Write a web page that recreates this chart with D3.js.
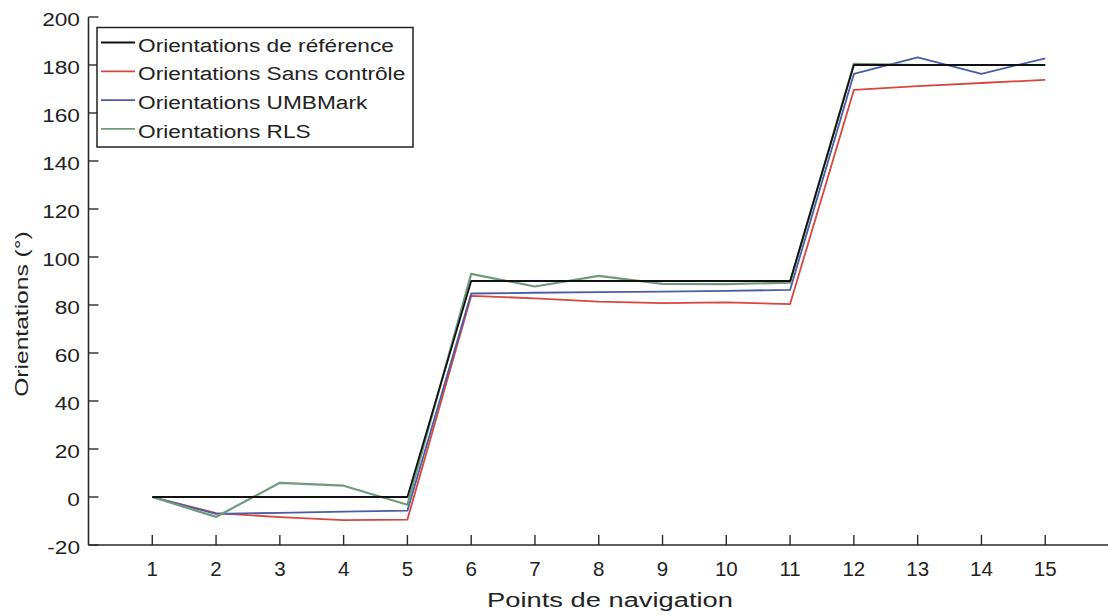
<!DOCTYPE html>
<html>
<head>
<meta charset="utf-8">
<script src="https://cdn.jsdelivr.net/npm/d3@7"></script>
<style>
  html, body { margin: 0; padding: 0; background: #fff; }
  svg text { font-family: "Liberation Sans", Arial, sans-serif; fill: #222; }
</style>
</head>
<body>
<svg id="chart" width="1108" height="616"></svg>
<script>
// ---- data ----
const points = [1, 2, 3, 4, 5, 6, 7, 8, 9, 10, 11, 12, 13, 14, 15];
const reference = [0, 0, 0, 0, 0, 90, 90, 90, 90, 90, 90, 180, 180, 180, 180];
const sansControle = [0, -6.7, -8.4, -9.6, -9.4, 83.8, 82.8, 81.4, 80.8, 81.1, 80.4, 169.6, 171.2, 172.5, 173.8];
const umbmark = [0, -7, -6.6, -6.1, -5.7, 84.8, 85.1, 85.4, 85.6, 85.9, 86.3, 176.3, 183.2, 176.3, 182.8];
const rls = [0, -8.3, 5.9, 4.7, -3.2, 93, 87.7, 92.1, 88.8, 88.7, 89.3, 180.5, 180, 180, 180];
const seriesNames = ["Orientations de référence", "Orientations Sans contrôle", "Orientations UMBMark", "Orientations RLS"];
const yTicks = [-20, 0, 20, 40, 60, 80, 100, 120, 140, 160, 180, 200];
const xLabel = "Points de navigation";
const yLabel = "Orientations (°)";

// ---- layout ----
const svg = d3.select("#chart");
const x = d3.scaleLinear().domain([0, 16]).range([88.5, 1109]);
const y = d3.scaleLinear().domain([-20, 200]).range([545, 17]);

const colors = ["#111111", "#d8473e", "#4a5ca6", "#6f9c78"];
const data = [reference, sansControle, umbmark, rls];

// axes
const axisColor = "#2a2a2a";
svg.append("line").attr("x1", x(0)).attr("x2", 1108).attr("y1", y(-20)).attr("y2", y(-20))
  .attr("stroke", axisColor).attr("stroke-width", 1.6);
svg.append("line").attr("x1", x(0)).attr("x2", x(0)).attr("y1", y(200)).attr("y2", y(-20))
  .attr("stroke", axisColor).attr("stroke-width", 1.6);

// x ticks (inward)
svg.append("g").selectAll("line").data(points).join("line")
  .attr("x1", d => x(d)).attr("x2", d => x(d))
  .attr("y1", y(-20)).attr("y2", y(-20) - 10)
  .attr("stroke", axisColor).attr("stroke-width", 1.4);
svg.append("g").selectAll("text").data(points).join("text")
  .attr("transform", d => `translate(${x(d)},576) scale(1.0,1)`)
  .attr("text-anchor", "middle")
  .style("font-size", "20.5px")
  .text(d => d);

// y ticks (inward)
svg.append("g").selectAll("line").data(yTicks).join("line")
  .attr("x1", x(0)).attr("x2", x(0) + 10)
  .attr("y1", d => y(d)).attr("y2", d => y(d))
  .attr("stroke", axisColor).attr("stroke-width", 1.4);
svg.append("g").selectAll("text").data(yTicks).join("text")
  .attr("transform", d => `translate(80,${y(d) + 8.7}) scale(1.22,1)`)
  .attr("text-anchor", "end")
  .style("font-size", "18.6px")
  .text(d => d);

// axis titles
svg.append("text")
  .attr("transform", `translate(610,607) scale(1.4,1)`)
  .attr("text-anchor", "middle")
  .style("font-size", "19.5px")
  .text(xLabel);
svg.append("text")
  .attr("transform", `translate(28,314) rotate(-90) scale(1.33,1)`)
  .attr("text-anchor", "middle")
  .style("font-size", "18.5px")
  .text(yLabel);

// series lines
const line = d3.line().x((d, i) => x(points[i])).y(d => y(d));
const drawOrder = [1, 2, 3, 0];
svg.append("g").selectAll("path").data(drawOrder).join("path")
  .attr("d", k => line(data[k]))
  .attr("fill", "none")
  .attr("stroke", k => colors[k])
  .attr("stroke-width", k => k === 3 ? 2.2 : 1.8)
  .attr("stroke-linejoin", "round");

// legend
const lg = svg.append("g");
lg.append("rect").attr("x", 97).attr("y", 27.5).attr("width", 316).attr("height", 119.5)
  .attr("fill", "#fff").attr("stroke", "#222").attr("stroke-width", 1.5);
const rows = lg.selectAll("g.row").data(seriesNames).join("g").attr("class", "row")
  .attr("transform", (d, i) => `translate(0,${51.5 + i * 28.8})`);
rows.append("line").attr("x1", 101).attr("x2", 135).attr("y1", -9).attr("y2", -9)
  .attr("stroke", (d, i) => colors[i]).attr("stroke-width", 1.8);
rows.append("text")
  .attr("transform", "translate(138,0) scale(1.22,1)")
  .style("font-size", "18.6px")
  .text(d => d);
</script>
</body>
</html>
